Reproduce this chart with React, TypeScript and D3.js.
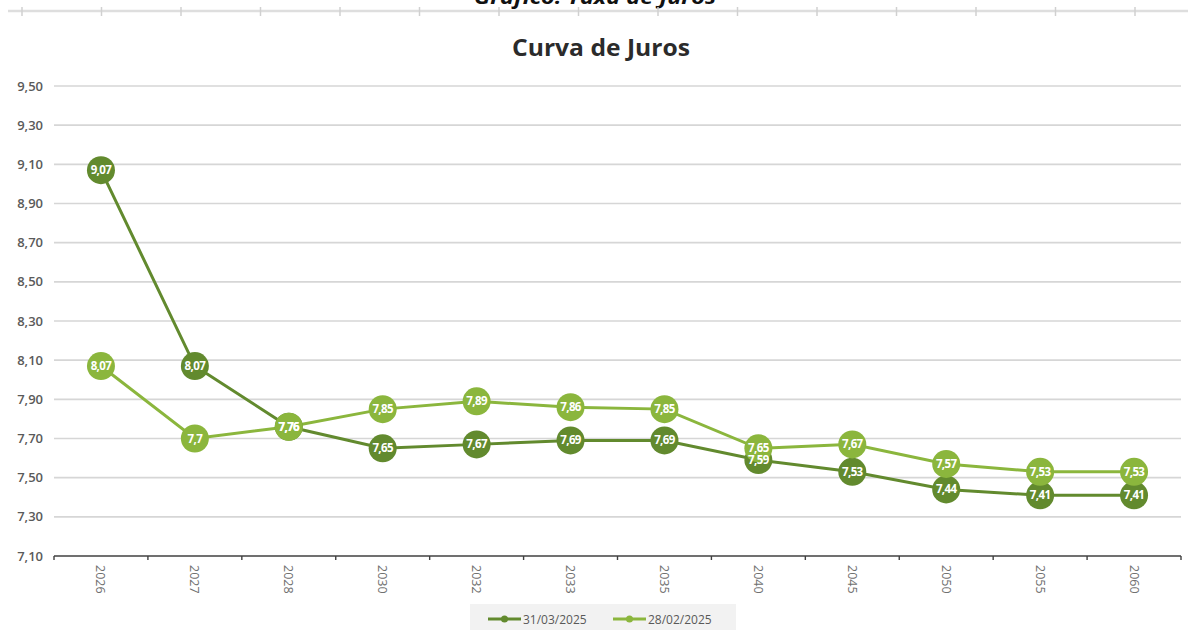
import React from "react";
import * as d3 from "d3";

const categories = ["2026", "2027", "2028", "2030", "2032", "2033", "2035", "2040", "2045", "2050", "2055", "2060"];
const seriesMar = [9.07, 8.07, 7.76, 7.65, 7.67, 7.69, 7.69, 7.59, 7.53, 7.44, 7.41, 7.41];
const seriesFeb = [8.07, 7.7, 7.76, 7.85, 7.89, 7.86, 7.85, 7.65, 7.67, 7.57, 7.53, 7.53];
const seriesNames = ["31/03/2025", "28/02/2025"];
const yTicks = [7.1, 7.3, 7.5, 7.7, 7.9, 8.1, 8.3, 8.5, 8.7, 8.9, 9.1, 9.3, 9.5];
const rulerTicks = d3.range(15);

const W = 1188;
const H = 630;
const left = 54;
const right = 1181;
const top = 86;
const bottom = 556;
const DARK = "#628a2e";
const LIGHT = "#8bb63d";
const FONT = "'Open Sans', 'Liberation Sans', sans-serif";

const fmt = (v: number) => String(v).replace(".", ",");

export default function App() {
  const x = d3.scaleBand<string>().domain(categories).range([left, right]);
  const y = d3.scaleLinear().domain([7.1, 9.5]).range([bottom, top]);
  const cx = (c: string) => (x(c) as number) + x.bandwidth() / 2;
  const line = d3
    .line<number>()
    .x((_, i) => cx(categories[i]))
    .y((d) => y(d));

  const series = [
    { name: seriesNames[0], values: seriesMar, color: DARK },
    { name: seriesNames[1], values: seriesFeb, color: LIGHT },
  ];

  return (
    <svg width={W} height={H} style={{ position: "absolute", left: 0, top: 0, background: "#fff" }}>
      <rect x={0} y={0} width={W} height={H} fill="#fff" />
      {/* top caption (cut off) */}
      <text x={595} y={4} textAnchor="middle" fontFamily={FONT} fontSize={19} fontWeight="bold" fontStyle="italic" fill="#111" textLength={242} lengthAdjust="spacingAndGlyphs">
        Gráfico: Taxa de Juros
      </text>
      <line x1={8} x2={W} y1={11} y2={11} stroke="#dedede" strokeWidth={2.5} />
      {rulerTicks.map((i) => (
        <line key={i} x1={22 + i * 79.5} x2={22 + i * 79.5} y1={7} y2={16} stroke="#d0d0d0" strokeWidth={1.5} />
      ))}

      {/* title */}
      <text x={601} y={56} textAnchor="middle" fontFamily={FONT} fontSize={23} fontWeight="bold" fill="#2b2b2b" textLength={178} lengthAdjust="spacingAndGlyphs">
        Curva de Juros
      </text>

      {/* gridlines */}
      {yTicks.slice(1).map((t) => (
        <line key={t} x1={left} x2={right} y1={y(t)} y2={y(t)} stroke="#d6d6d6" strokeWidth={1.6} />
      ))}
      {yTicks.map((t) => (
        <text key={"l" + t} x={43} y={y(t) + 4.5} textAnchor="end" fontFamily={FONT} fontSize={13} fontWeight={600} fill="#5a5a5a">
          {t.toFixed(2).replace(".", ",")}
        </text>
      ))}

      {/* x axis */}
      <line x1={left} x2={right} y1={bottom} y2={bottom} stroke="#404040" strokeWidth={1.6} />
      {d3.range(categories.length + 1).map((i) => {
        const xx = left + i * x.step();
        return <line key={i} x1={xx} x2={xx} y1={bottom} y2={bottom + 4} stroke="#404040" strokeWidth={1.4} />;
      })}
      {categories.map((c) => (
        <text
          key={c}
          transform={`translate(${cx(c) - 4.5},${565}) rotate(90)`}
          textAnchor="start"
          fontFamily={FONT}
          fontSize={12.5}
          fill="#707070"
        >
          {c}
        </text>
      ))}

      {/* lines */}
      {series.map((s) => (
        <path key={s.name} d={line(s.values) as string} fill="none" stroke={s.color} strokeWidth={3} />
      ))}
      {series.map((s) => (
        <g key={"m" + s.name}>
          {s.values.map((v, i) => (
            <circle key={i} cx={cx(categories[i])} cy={y(v)} r={14} fill={s.color} />
          ))}
        </g>
      ))}
      {series.map((s) => (
        <g key={"t" + s.name}>
          {s.values.map((v, i) => (
            <text
              key={i}
              x={cx(categories[i])}
              y={y(v) + 4}
              textAnchor="middle"
              fontFamily={FONT}
              fontSize={11.5}
              fontWeight="bold"
              fill="#fff"
              letterSpacing={-0.6}
            >
              {fmt(v)}
            </text>
          ))}
        </g>
      ))}

      {/* legend */}
      <rect x={470} y={604} width={266} height={26} fill="#f2f2f2" />
      {series.map((s, i) => {
        const lx = i === 0 ? 488 : 613;
        return (
          <g key={"lg" + s.name}>
            <line x1={lx} x2={lx + 33} y1={619} y2={619} stroke={s.color} strokeWidth={3} />
            <circle cx={lx + 16.5} cy={619} r={3.5} fill={s.color} />
            <text x={lx + 35} y={623.5} fontFamily={FONT} fontSize={12} fill="#595959">
              {s.name}
            </text>
          </g>
        );
      })}
    </svg>
  );
}
